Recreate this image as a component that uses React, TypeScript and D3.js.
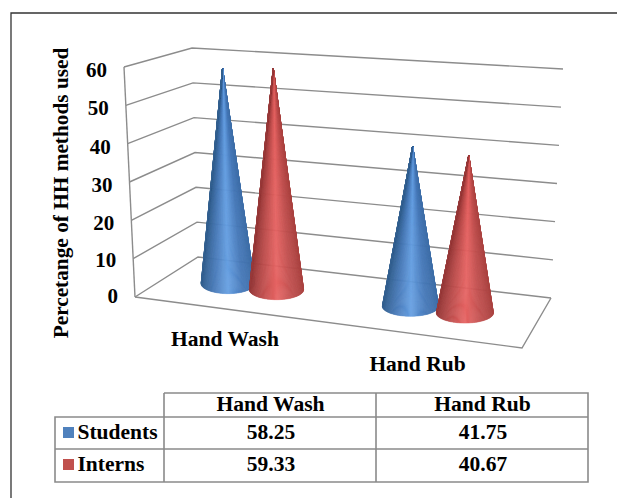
import React from "react";
import * as d3 from "d3";

const W = 617, H = 498;
const categories = ["Hand Wash", "Hand Rub"];
const seriesNames = ["Students", "Interns"];
const students = [58.25, 41.75];
const interns = [59.33, 40.67];
const tableText = [["58.25", "41.75"], ["59.33", "40.67"]];
const yTicks = [0, 10, 20, 30, 40, 50, 60];
const FONT = "'Liberation Serif', 'Times New Roman', serif";

type P = [number, number];
// corners of the 3-D box as seen in the picture: [front-left, back-left, back-right, front-right]
const floor: P[] = [[135, 297], [198, 257], [551, 298], [522, 348]];
const top: P[] = [[124, 67], [192, 48], [563, 69], [528, 104]];

const vT = d3.scaleLinear().domain([0, 60]).range([0, 1]);
const mix = (a: P, b: P, t: number): P => [a[0] + (b[0] - a[0]) * t, a[1] + (b[1] - a[1]) * t];
const project = (u: number, d: number, v: number): P => {
  const f = mix(mix(floor[0], floor[3], u), mix(floor[1], floor[2], u), d);
  const t = mix(mix(top[0], top[3], u), mix(top[1], top[2], u), d);
  return mix(f, t, vT(v));
};

const catBand = d3.scaleBand<string>().domain(categories).range([-0.01, 0.99]);
const serBand = d3.scaleBand<string>().domain(seriesNames).range([-0.14, 0.14]);
const perspective = d3.scalePow().exponent(1.1).domain([0, 1]).range([0.0225, 1.0085]);
const rxScale = d3.scaleLinear().domain([0, 1]).range([26.3, 29]);
const RY = 10;
const depth = 0.52;

const shade = (stops: string[]) =>
  d3.scaleLinear<string>().domain([-1, -0.55, 0, 0.55, 1]).range(stops).interpolate(d3.interpolateRgb);
const blueShade = shade(["#3f6fa8", "#4678b8", "#659fe2", "#4678b6", "#34608f"]);
const redShade = shade(["#ab4442", "#c04f4e", "#e66463", "#bc4c4b", "#973a3a"]);

const line = d3.line();

function Cone({ u, value, color }: { u: number; value: number; color: (t: number) => string }) {
  const pu = perspective(u);
  const [cx, cy] = project(pu, depth, 0);
  const apex = project(pu, depth, value);
  const rx = rxScale(pu);
  const thetas = d3.range(-0.22, Math.PI + 0.22, 0.04);
  return (
    <g>
      {thetas.slice(0, -1).map((th, i) => {
        const n = thetas[i + 1];
        const a: P = [cx + rx * Math.cos(th), cy + RY * Math.sin(th)];
        const b: P = [cx + rx * Math.cos(n), cy + RY * Math.sin(n)];
        const c = color(-Math.cos((th + n) / 2));
        return <path key={i} d={line([apex, a, b])! + "Z"} fill={c} stroke={c} strokeWidth={0.5} />;
      })}
    </g>
  );
}

export default function App() {
  const grid = "#8c8c8c";
  const tbl = "#8a8a8a";
  const tx = [55, 164, 376, 588];
  const ty = [393, 417, 449, 482];
  const rows = [students, interns];
  const textBold = { fontFamily: FONT, fontWeight: 700, fill: "#000" } as const;
  return (
    <svg width={W} height={H} style={{ position: "absolute", left: 0, top: 0, background: "#fff" }}>
      <path d={`M11,${H}V13H${W}`} fill="none" stroke="#333" strokeWidth={1.3} />

      {yTicks.map((v) => (
        <path key={v} d={line([project(0, 0, v), project(0, 1, v), project(1, 1, v)])!} fill="none" stroke={grid} strokeWidth={1.4} />
      ))}
      <path d={line([project(0, 0, 0), project(0, 0, 60)])!} fill="none" stroke={grid} strokeWidth={1.4} />
      <path d={line([project(0, 0, 0), project(1, 0, 0), project(1, 1, 0)])!} fill="none" stroke={grid} strokeWidth={1.4} />

      {yTicks.map((v) => {
        const [x, y] = project(0, 0, v);
        return (
          <text key={v} x={x - 17} y={y + (v === 0 ? 6 : v === 10 ? 8 : 10)} textAnchor="end" fontSize={21} {...textBold}>
            {v}
          </text>
        );
      })}

      <text transform="translate(68,193) rotate(-90)" textAnchor="middle" fontSize={21.3} {...textBold}>
        Percetange of HH methods used
      </text>

      {categories.map((c, i) => {
        const cu = (catBand(c) ?? 0) + catBand.bandwidth() / 2;
        return [
          <Cone key={c + "s"} u={cu + (serBand(seriesNames[0]) ?? 0) + serBand.bandwidth() / 2} value={students[i]} color={blueShade} />,
          <Cone key={c + "i"} u={cu + (serBand(seriesNames[1]) ?? 0) + serBand.bandwidth() / 2} value={interns[i]} color={redShade} />,
        ];
      })}

      <text x={225} y={346} textAnchor="middle" fontSize={21.5} {...textBold}>{categories[0]}</text>
      <text x={417.5} y={371} textAnchor="middle" fontSize={21.5} {...textBold}>{categories[1]}</text>

      {/* data table */}
      <path
        d={`M${tx[1]},${ty[0]}H${tx[3]}V${ty[3]}H${tx[0]}V${ty[1]}H${tx[3]}M${tx[0]},${ty[2]}H${tx[3]}M${tx[1]},${ty[0]}V${ty[3]}M${tx[2]},${ty[0]}V${ty[3]}`}
        fill="none" stroke={tbl} strokeWidth={1.6}
      />
      {categories.map((c, i) => (
        <text key={c} x={(tx[i + 1] + tx[i + 2]) / 2 + 0.5} y={411} textAnchor="middle" fontSize={21.6} {...textBold}>{c}</text>
      ))}
      {seriesNames.map((s, r) => (
        <g key={s}>
          <rect x={63} y={ty[r + 1] + 10} width={11} height={11} fill={r === 0 ? "#4f81bd" : "#c0504d"} />
          <text x={77.5} y={ty[r + 1] + 22} fontSize={21.5} {...textBold}>{s}</text>
          {rows[r].map((_, i) => (
            <text key={i} x={(tx[i + 1] + tx[i + 2]) / 2 + 1} y={ty[r + 1] + 22} textAnchor="middle" fontSize={21.5} {...textBold}>
              {tableText[r][i]}
            </text>
          ))}
        </g>
      ))}
    </svg>
  );
}
